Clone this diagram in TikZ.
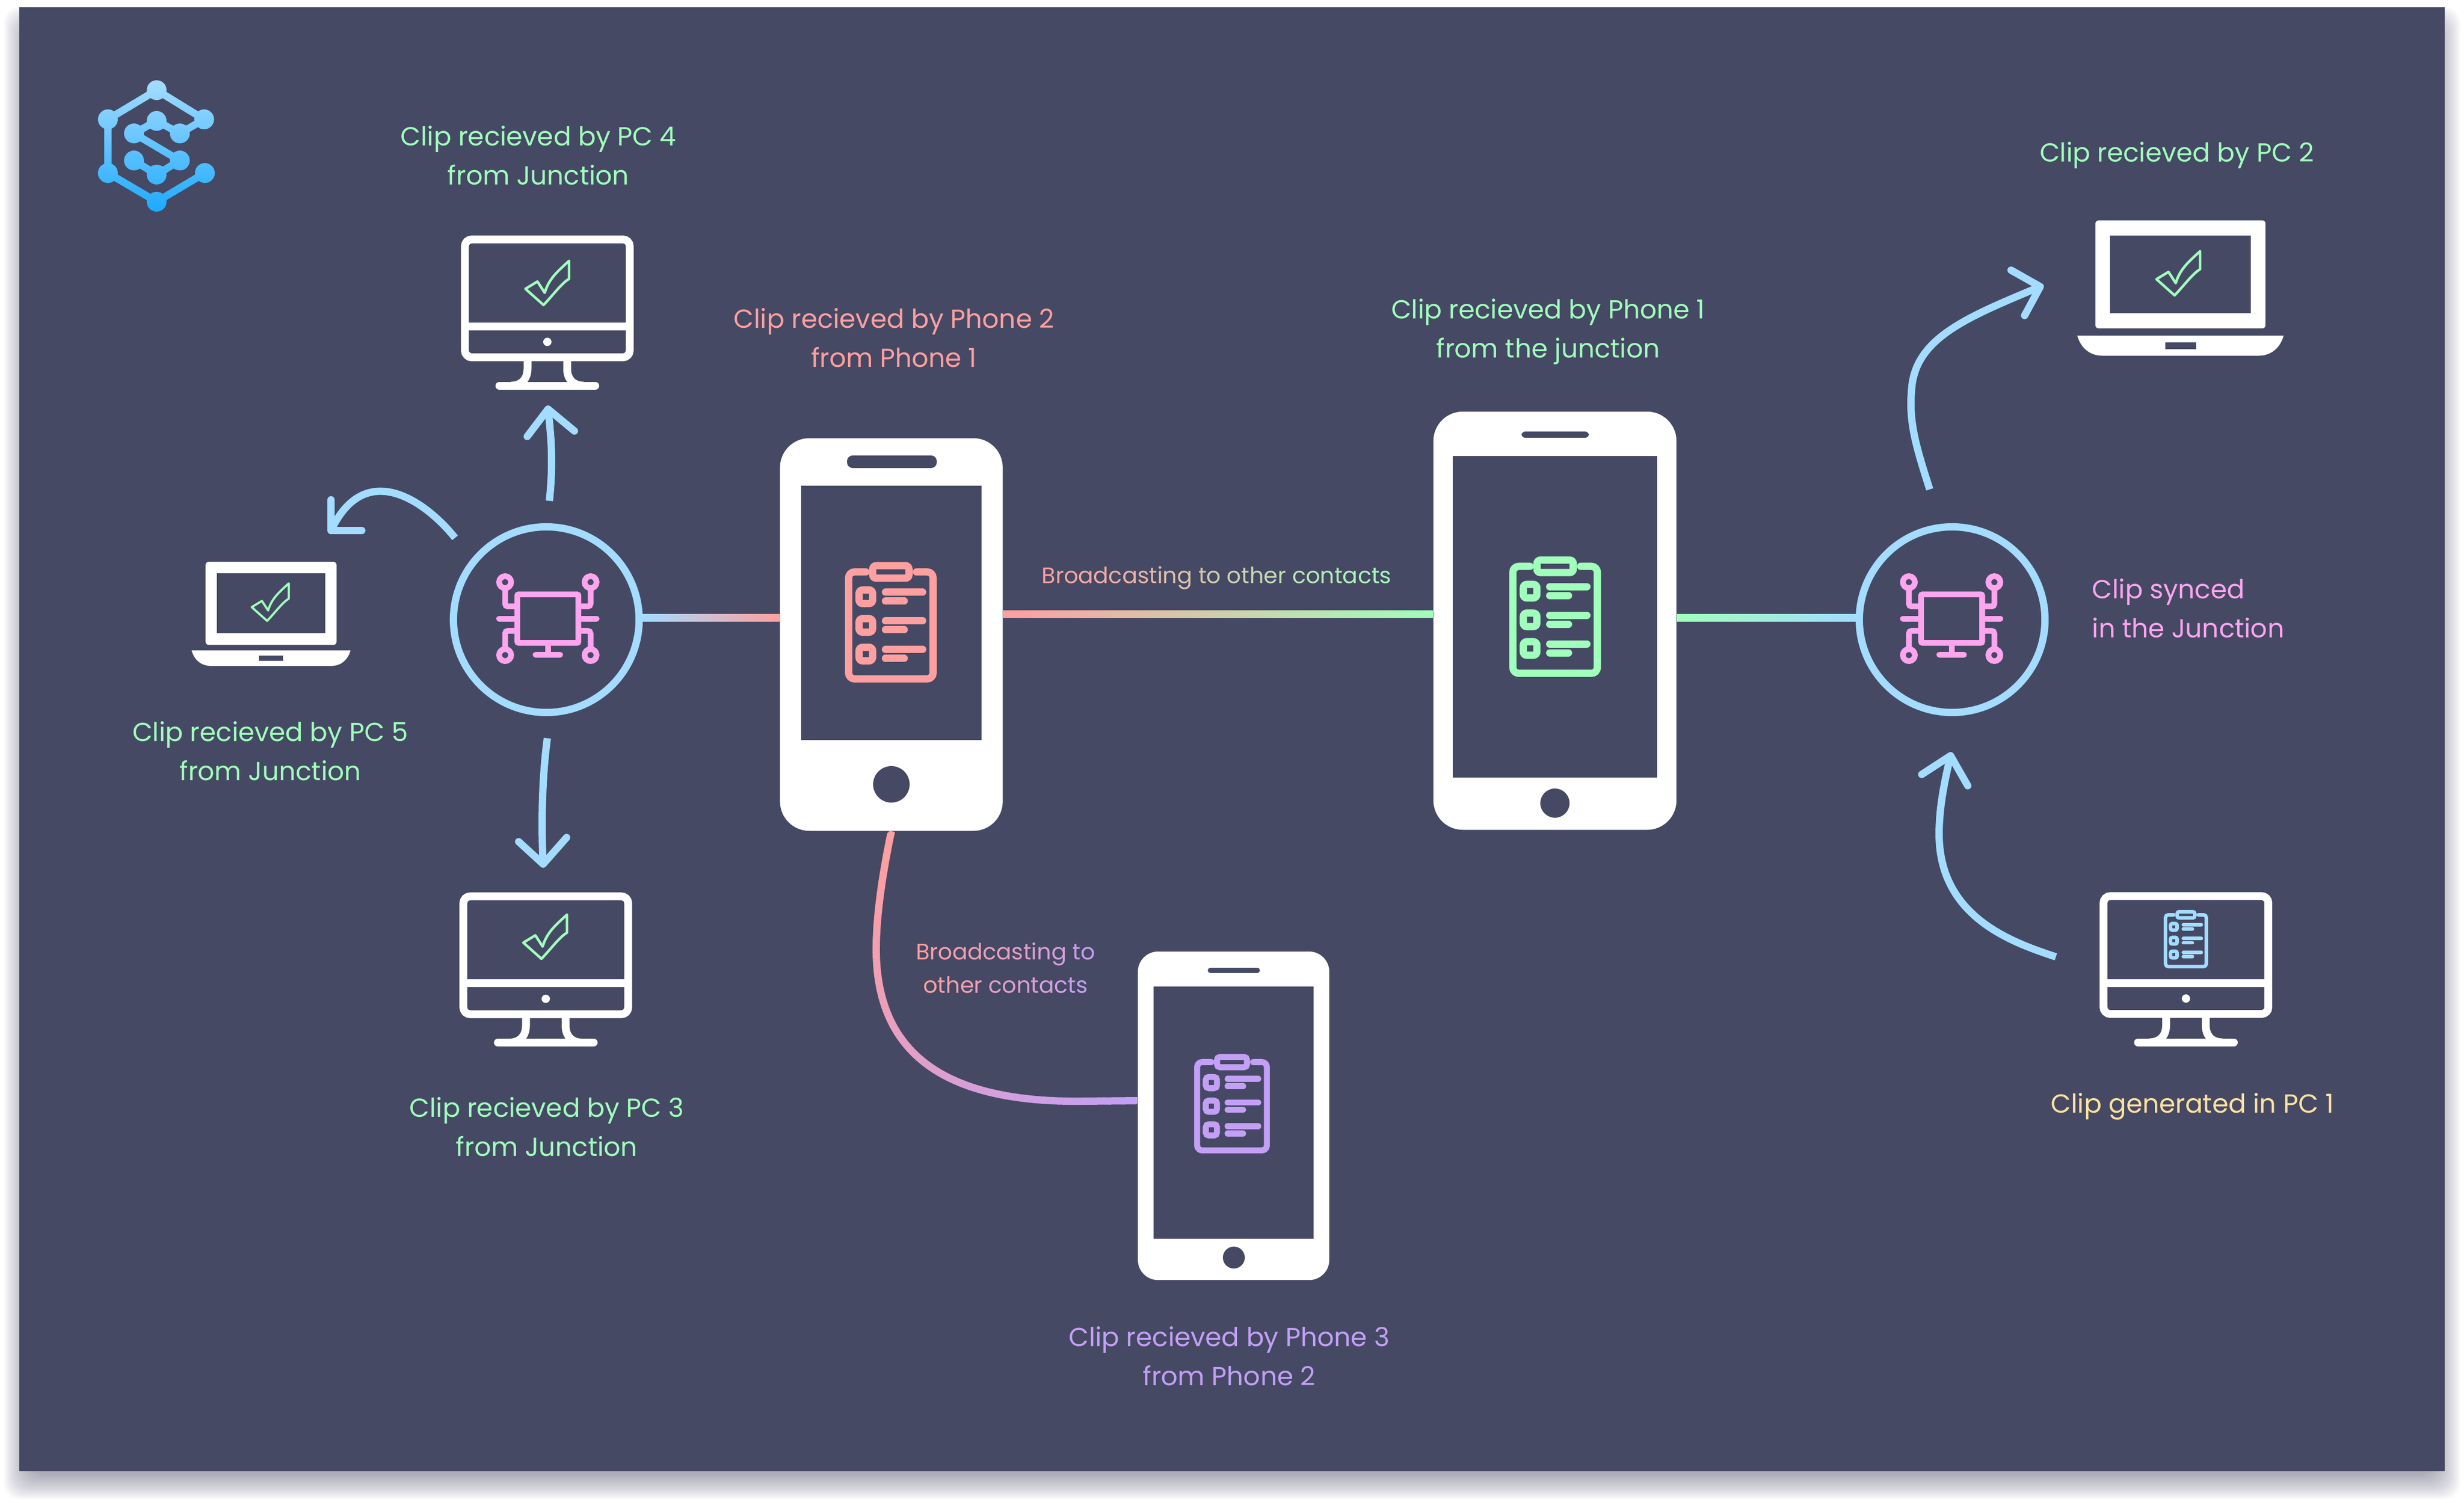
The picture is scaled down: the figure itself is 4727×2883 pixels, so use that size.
\documentclass[tikz,border=0pt]{standalone}
\usepackage{fontspec}
\setmainfont{Poppins}
\usetikzlibrary{calc}
\definecolor{bgc}{HTML}{454964}
\definecolor{flowc}{HTML}{A3DCFF}
\definecolor{gGreen}{HTML}{A0FFBA}
\definecolor{gPink}{HTML}{FF9F9F}
\definecolor{gPurp}{HTML}{C39FF5}
\definecolor{gYell}{HTML}{FFE29F}
\definecolor{chipc}{HTML}{FFA4EF}
\definecolor{logoA}{HTML}{A5DCFF}
\definecolor{logoB}{HTML}{1EAAFF}
\ExplSyntaxOn
\int_new:N \l_grad_i_int
\NewDocumentCommand\gradtext{mmm}{
  \int_zero:N \l_grad_i_int
  \tl_map_inline:nn {#3}{
    \edef\gradmix{\int_eval:n{100-100*\l_grad_i_int/(\tl_count:n{#3})}}
    \textcolor{#1!\gradmix!#2}{##1}
    \int_incr:N \l_grad_i_int
  }
}
\ExplSyntaxOff
\tikzset{
  lbl/.style={font=\fontsize{14.25}{21.3}\selectfont,align=center,inner sep=0pt},
  smalllbl/.style={font=\fontsize{12.25}{18.2}\selectfont,align=center,inner sep=0pt},
  junction/.style={circle,draw=flowc,line width=3.98pt,minimum size=3.56cm,inner sep=0pt},
  flow/.style={draw=flowc,line width=3.98pt},
  barb/.style={draw=flowc,line width=3.98pt,line cap=round,line join=round},
  handset/.style={fill=white,rectangle,inner sep=0pt},
  glass/.style={fill=bgc,rectangle,inner sep=0pt},
  frame/.style={draw=white,rectangle,inner sep=0pt,line width=4.27pt,rounded corners=3.7pt,minimum width=3.16cm,minimum height=2.26cm},
  lid/.style={fill=white,rectangle,inner sep=0pt,rounded corners=1.7pt}
}
\newcommand\clipboard[4]{%
  \pgfmathsetmacro\cblw{3.98*#3}%
  \pgfmathsetmacro\cbra{3.2*#3}%
  \pgfmathsetmacro\cbrb{1.9*#3}%
  \begin{scope}[shift={(#1,#2)},x=#3*0.01cm,y=-#3*0.01cm,line width=\cblw pt,draw=#4,line cap=round]
    \draw[rounded corners=\cbra pt] (-48,-102.6) -- (-81,-102.6) -- (-81,102.6) -- (81,102.6) -- (81,-102.6) -- (49,-102.6);
    \draw[rounded corners=\cbrb pt] (-34.8,-114.6) rectangle (34.8,-90.6);
    \foreach \dy in {-55,0,55}{
      \draw[rounded corners=\cbrb pt] (-61,\dy-13) rectangle (-35,\dy+13);
      \draw (-10.3,\dy-8.7) -- (61,\dy-8.7);
      \draw (-10.3,\dy+8.3) -- (25.7,\dy+8.3);
    }
  \end{scope}}
\newcommand\chipicon[2]{%
  \begin{scope}[shift={(#1,#2)},line width=3.13pt,draw=chipc]
    \draw[rounded corners=0.8pt] (-58.7,-46.5) rectangle (58.7,46.5);
    \foreach \sx in {-1,1}{
      \foreach \sy in {-1,1}{
        \draw (\sx*82,\sy*70) circle[radius=11.5];
        \draw[rounded corners=1.5pt] (\sx*82,\sy*58.5) -- (\sx*82,\sy*23.4) -- (\sx*58.7,\sy*23.4);
      }
      \draw[line cap=round] (\sx*58.7,0) -- (\sx*93.5,0);
    }
    \draw (0,46.5) -- (0,69);
    \draw[line cap=round] (-23.5,69) -- (23.5,69);
  \end{scope}}
\newcommand\checkicon[3]{%
  \pgfmathsetmacro\cklw{1.4*#3}%
  \begin{scope}[shift={(#1,#2)},x=#3*0.01cm,y=-#3*0.01cm]
    \draw[gGreen,line width=\cklw pt,line join=round] (41.7,-42) -- (41.7,-7.3) .. controls (28,0) and (10,25) .. (-7.3,42.7) -- (-42,11.7) -- (-19,-2.3) -- (-5,19.3) .. controls (3,-8) and (20,-22) .. cycle;
  \end{scope}}
\newcommand\desktop[3]{%
  \node[frame] (#1) at (#2,#3) {};
  \begin{scope}[shift={(#2,#3)},line width=4.27pt,draw=white]
    \draw (-158,53.5) -- (158,53.5);
    \fill[white] (0,83.5) circle[radius=8];
    \draw (-38,113) -- (-38,135) .. controls (-38,155) and (-50,167.5) .. (-70,167.5);
    \draw (38,113) -- (38,135) .. controls (38,155) and (50,167.5) .. (70,167.5);
    \draw[line cap=round] (-92,167.5) -- (92,167.5);
  \end{scope}}
\newcommand\laptop[4]{%
  \pgfmathsetmacro\lw{3.26*#4}\pgfmathsetmacro\lh{2.07*#4}%
  \node[lid,minimum width=\lw cm,minimum height=\lh cm] (#1) at (#2,#3) {};
  \begin{scope}[shift={(#2,#3)},x=#4*0.01cm,y=-#4*0.01cm]
    \fill[bgc] (-135,-74.7) rectangle (135,74.7);
    \fill[white] (-198,117.5) -- (198,117.5) .. controls (190,145) and (170,156) .. (150,156) -- (-150,156) .. controls (-170,156) and (-190,145) .. (-198,117.5) -- cycle;
    \fill[bgc] (-29.5,130) rectangle (29.5,143.5);
  \end{scope}}
\begin{document}
\begin{tikzpicture}[x=0.01cm,y=-0.01cm]
\useasboundingbox (0,0) rectangle (4727,2883);
\fill[white] (0,0) rectangle (4727,2883);
% panel and its soft shadow
\foreach \e in {-14,-12,...,42}{
  \fill[bgc,opacity=0.018,rounded corners=9pt] (49-\e,55-\e) rectangle (4678+\e,2835+\e);
}
\fill[bgc] (37,14) rectangle (4690,2823);

% logo
\newcommand\logopaths{%
  \draw[line join=round] (393,332) -- (300.5,387) -- (207,332) -- (207,229) -- (300.5,173) -- (391.6,229) -- (345,256) -- (300.5,232) -- (257,256) -- (345,308) -- (300.5,335) -- (257,308);
  \foreach \cx/\cy in {300.5/173,391.6/229,207/229,207/332,393/332,300.5/387,300.5/232,257/256,345/256,345/308,257/308,300.5/335}{
    \fill (\cx,\cy) circle[radius=19];
  }}
\foreach \i in {0,...,42}{
  \pgfmathsetmacro\ya{150+\i*6}
  \pgfmathsetmacro\yb{\ya+7}
  \pgfmathtruncatemacro\mx{min(100,100*\i/42)}
  \begin{scope}
    \clip (180,\ya) rectangle (430,\yb);
    \begin{scope}[color=logoB!\mx!logoA,line width=3.98pt]
      \logopaths
    \end{scope}
  \end{scope}
}

% junctions
\node[junction] (j1) at (1048,1189) {};
\node[junction] (j2) at (3745,1189) {};
\chipicon{1051}{1187}
\chipicon{3744}{1187}

% phones
\node[handset,minimum width=4.27cm,minimum height=7.53cm,rounded corners=16pt] (ph2) at (1710,1217.5) {};
\node[glass,minimum width=3.46cm,minimum height=4.876cm] (ph2s) at (1710,1176) {};
\fill[bgc,rounded corners=3pt] (1625,874) rectangle (1797,898);
\fill[bgc] (1710,1505) circle[radius=35];
\clipboard{1709}{1200}{1}{gPink}

\node[handset,minimum width=4.66cm,minimum height=8.02cm,rounded corners=16pt] (ph1) at (2983,1191) {};
\node[glass,minimum width=3.91cm,minimum height=6.17cm] (ph1s) at (2983,1183.5) {};
\fill[bgc,rounded corners=2pt] (2919,828) rectangle (3048,840);
\fill[bgc] (2983,1541) circle[radius=28];
\clipboard{2983.3}{1189.3}{1}{gGreen}

\node[handset,minimum width=3.67cm,minimum height=6.30cm,rounded corners=11pt] (ph3) at (2366.5,2141) {};
\node[glass,minimum width=3.07cm,minimum height=4.84cm] (ph3s) at (2366.5,2135) {};
\fill[bgc,rounded corners=1.4pt] (2317,1857) rectangle (2417,1867);
\fill[bgc] (2367,2413) circle[radius=21];
\clipboard{2363.5}{2122.6}{0.825}{gPurp}

% computers
\desktop{pc4}{1050}{572.5}
\checkicon{1050}{542.5}{1}
\desktop{pc3}{1047}{1833}
\checkicon{1046}{1797}{1}
\desktop{pc1}{4193.5}{1832.5}
\clipboard{4193.5}{1805}{0.484}{flowc}
\laptop{pc2}{4183}{526.5}{1}
\checkicon{4179}{524}{1}
\laptop{pc5}{520}{1157.7}{0.77}
\checkicon{518.6}{1155}{0.85}

% straight connectors
\coordinate (ya) at (0,1178);
\coordinate (yb) at (0,1192);
\coordinate (yc) at (0,1171);
\coordinate (yd) at (0,1185);
\shade[left color=flowc,right color=gPink] (j1.east |- ya) rectangle (ph2.west |- yb);
\shade[left color=gPink,right color=gGreen] (ph2.east |- yc) rectangle (ph1.west |- yd);
\shade[left color=gGreen,right color=flowc] (ph1.east |- ya) rectangle (j2.west |- yb);

% curved connector, phone 2 to phone 3
\coordinate (ye) at (0,2112);
\foreach \i in {0,...,39}{
  \pgfmathsetmacro\ua{3301+\i*24.9}
  \pgfmathsetmacro\ub{\ua+27}
  \pgfmathtruncatemacro\mx{100*\i/39}
  \begin{scope}
    \clip (1600,\ua-1600) -- (2300,\ua-2300) -- (2300,\ub-2300) -- (1600,\ub-1600) -- cycle;
    \draw[gPurp!\mx!gPink,line width=3.98pt] (ph2.south) .. controls (1690,1690) and (1680,1770) .. (1681,1830) .. controls (1685,2020) and (1810,2115) .. (2072,2113) -- (ph3.west |- ye);
  \end{scope}
}

% arrows
\coordinate (aUs) at (1054,961);   \coordinate (aUt) at (1051.4,785);
\coordinate (aUl) at (1011.4,837.5); \coordinate (aUr) at (1102,827);
\draw[flow] (aUs) .. controls (1060,900) and (1060,860) .. (aUt);
\draw[barb] (aUl) -- (aUt) -- (aUr);

\coordinate (aLs) at (873,1032);   \coordinate (aLt) at (635,1018);
\coordinate (aLl) at (635,959);    \coordinate (aLr) at (694,1018);
\draw[flow] (aLs) .. controls (815,960) and (700,880) .. (aLt);
\draw[barb] (aLl) -- (aLt) -- (aLr);

\coordinate (aDs) at (1050,1416.5); \coordinate (aDt) at (1042,1658);
\coordinate (aDl) at (995,1615);    \coordinate (aDr) at (1087,1607);
\draw[flow] (aDs) .. controls (1040,1490) and (1038,1580) .. (aDt);
\draw[barb] (aDl) -- (aDt) -- (aDr);

\coordinate (aRs) at (3702,939);   \coordinate (aRt) at (3914,550);
\coordinate (aRl) at (3858,518.4); \coordinate (aRr) at (3884,605.4);
\draw[flow] (aRs) .. controls (3675,855) and (3662,810) .. (3667,750) .. controls (3672,650) and (3770,610) .. (aRt);
\draw[barb] (aRl) -- (aRt) -- (aRr);

\coordinate (aGs) at (3944,1836);  \coordinate (aGt) at (3742,1450);
\coordinate (aGl) at (3686.7,1486); \coordinate (aGr) at (3775,1507.7);
\draw[flow] (aGs) .. controls (3860,1808) and (3720,1760) .. (3720,1600) .. controls (3720,1550) and (3730,1500) .. (aGt);
\draw[barb] (aGl) -- (aGt) -- (aGr);

% labels
\node[lbl,text=gGreen] (tpc4) at (1033,298) {Clip recieved by PC 4\\from Junction};
\node[lbl,text=gGreen] (tpc2) at (4176,298) {Clip recieved by PC 2};
\node[lbl,text=gPink] (tph2) at (1715,648) {Clip recieved by Phone 2\\from Phone 1};
\node[lbl,text=gGreen] (tph1) at (2970,636) {Clip recieved by Phone 1\\from the junction};
\node[smalllbl] (tbr1) at (2334,1109) {\gradtext{gPink}{gGreen}{Broadcasting~to~other~contacts}};
\node[lbl,text=chipc,align=left,anchor=west] (tsyn) at (4013,1167) {Clip synced\\in the Junction};
\node[lbl,text=gGreen] (tpc5) at (518.6,1441) {Clip recieved by PC 5\\from Junction};
\node[lbl,text=gGreen] (tpc3) at (1049,2162) {Clip recieved by PC 3\\from Junction};
\node[smalllbl] (tbr2) at (1929,1857) {\gradtext{gPink}{gPurp}{Broadcasting~to}\\\gradtext{gPink}{gPurp}{other~contacts}};
\node[lbl,text=gPurp] (tph3) at (2358,2602) {Clip recieved by Phone 3\\from Phone 2};
\node[lbl,text=gYell] (tpc1) at (4206,2123) {Clip generated in PC 1};
\end{tikzpicture}
\end{document}
